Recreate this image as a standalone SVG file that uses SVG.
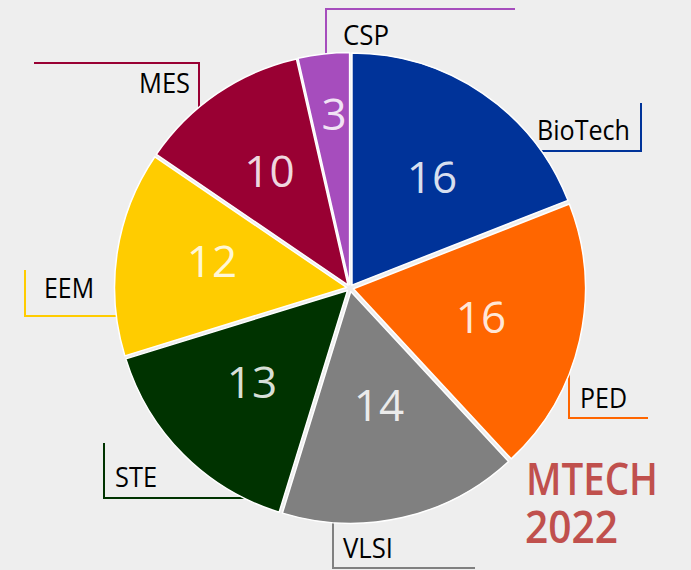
<svg xmlns="http://www.w3.org/2000/svg" width="691" height="570" viewBox="0 0 691 570">
<style>
.slice{stroke:#ffffff;stroke-width:1.5;stroke-linejoin:round}
.num{font-family:"Open Sans","Noto Sans",sans-serif;font-size:44px;fill:#ffffff;fill-opacity:0.86;text-anchor:middle}
.lbl{font-family:"Open Sans","Noto Sans",sans-serif;font-size:26.5px;fill:#000000}
.lead{fill:none;stroke-width:2}
.title{font-family:"Open Sans","Noto Sans",sans-serif;font-size:45px;font-weight:600;fill:#c0504d}
</style>
<rect x="0" y="0" width="691" height="570" fill="#eeeeee"/>
<g id="connectors">
  <polyline class="lead" stroke="#a64dbd" points="326,59 326,9 515,9"/>
  <polyline class="lead" stroke="#003399" points="538,151 641,151 641,103"/>
  <polyline class="lead" stroke="#990033" points="34,63 199,63 199,115"/>
  <polyline class="lead" stroke="#ffcc00" points="25,270 25,316 119,316"/>
  <polyline class="lead" stroke="#ff6600" points="569,370 569,418 648,418"/>
  <polyline class="lead" stroke="#003300" points="104,443 104,498 245,498"/>
  <polyline class="lead" stroke="#808080" points="333,522 333,568 475,568"/>
</g>
<g id="BioTech" transform="translate(351.97,285.11)">
  <path class="slice" fill="#003399" d="M0,0 L0,-232 A232,232 0 0 1 215.96,-84.76 Z"/>
  <text class="num" x="80.03" y="-92.11">16</text>
</g>
<g id="PED" transform="translate(353.41,288.78)">
  <path class="slice" fill="#ff6600" d="M0,0 L215.96,-84.76 A232,232 0 0 1 157.80,170.07 Z"/>
  <text class="num" x="127.59" y="44.22">16</text>
</g>
<g id="VLSI" transform="translate(350.78,291.41)">
  <path class="slice" fill="#808080" d="M0,0 L157.80,170.07 A232,232 0 0 1 -68.38,221.69 Z"/>
  <text class="num" x="28.22" y="129.59">14</text>
</g>
<g id="STE" transform="translate(347.53,290.47)">
  <path class="slice" fill="#003300" d="M0,0 L-68.38,221.69 A232,232 0 0 1 -221.69,68.38 Z"/>
  <text class="num" x="-95.53" y="107.53">13</text>
</g>
<g id="EEM" transform="translate(346.54,287.48)">
  <path class="slice" fill="#ffcc00" d="M0,0 L-221.69,68.38 A232,232 0 0 1 -191.69,-130.69 Z"/>
  <text class="num" x="-134.54" y="-10.48">12</text>
</g>
<g id="MES" transform="translate(348.03,285.11)">
  <path class="slice" fill="#990033" d="M0,0 L-191.69,-130.69 A232,232 0 0 1 -51.62,-226.18 Z"/>
  <text class="num" x="-78.53" y="-98.11">10</text>
</g>
<g id="CSP" transform="translate(349.61,284.52)">
  <path class="slice" fill="#a64dbd" d="M0,0 L-51.62,-226.18 A232,232 0 0 1 0,-232 Z"/>
  <text class="num" x="-15.61" y="-154.52">3</text>
</g>
<g id="labels">
  <text class="lbl" x="343" y="45" textLength="46" lengthAdjust="spacingAndGlyphs">CSP</text>
  <text class="lbl" x="537" y="140" textLength="93" lengthAdjust="spacingAndGlyphs">BioTech</text>
  <text class="lbl" x="139" y="93" textLength="51" lengthAdjust="spacingAndGlyphs">MES</text>
  <text class="lbl" x="44" y="298" textLength="50" lengthAdjust="spacingAndGlyphs">EEM</text>
  <text class="lbl" x="580" y="408" textLength="47" lengthAdjust="spacingAndGlyphs">PED</text>
  <text class="lbl" x="115" y="487" textLength="42" lengthAdjust="spacingAndGlyphs">STE</text>
  <text class="lbl" x="343" y="558" textLength="50" lengthAdjust="spacingAndGlyphs">VLSI</text>
</g>
<g id="title">
  <text class="title"><tspan x="526" y="495" textLength="132" lengthAdjust="spacingAndGlyphs">MTECH</tspan><tspan x="525" y="543" textLength="93" lengthAdjust="spacingAndGlyphs">2022</tspan></text>
</g>
</svg>
